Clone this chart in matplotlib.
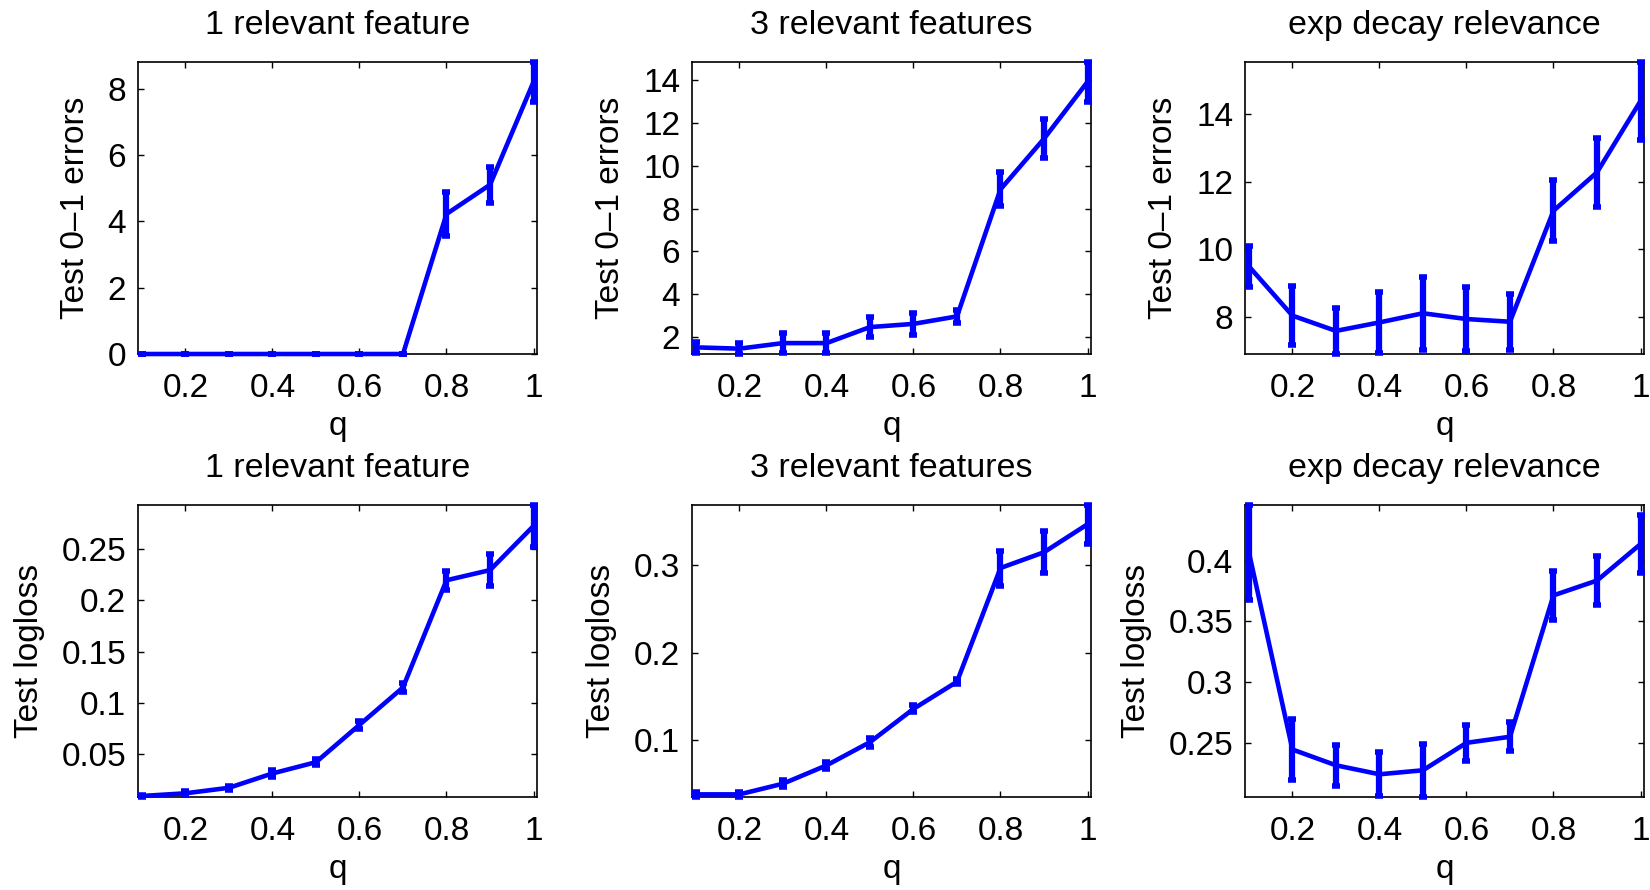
import matplotlib
matplotlib.use("Agg")
import matplotlib.pyplot as plt
import numpy as np
from matplotlib.ticker import FuncFormatter

plt.rcParams['font.family'] = ['Liberation Sans', 'DejaVu Sans']
plt.rcParams['font.size'] = 24

q = [0.1, 0.2, 0.3, 0.4, 0.5, 0.6, 0.7, 0.8, 0.9, 1.0]

# test 0-1 errors (mean, std err)
err_one = [0, 0, 0, 0, 0, 0, 0, 4.22, 5.1, 8.2]
err_one_sd = [0, 0, 0, 0, 0, 0, 0, 0.65, 0.55, 0.6]
err_three = [1.5, 1.44, 1.7, 1.7, 2.45, 2.6, 2.95, 8.9, 11.27, 13.93]
err_three_sd = [0.25, 0.25, 0.45, 0.45, 0.45, 0.5, 0.3, 0.8, 0.9, 0.93]
err_exp = [9.5, 8.05, 7.6, 7.85, 8.12, 7.95, 7.87, 11.14, 12.27, 14.37]
err_exp_sd = [0.6, 0.87, 0.68, 0.9, 1.07, 0.95, 0.83, 0.9, 1.02, 1.15]

# test logloss (mean, std err)
ll_one = [0.009, 0.0116, 0.017, 0.031, 0.042, 0.0785, 0.115, 0.2197, 0.2296, 0.2727]
ll_one_sd = [0.001, 0.002, 0.002, 0.003, 0.003, 0.004, 0.004, 0.0095, 0.016, 0.0205]
ll_three = [0.0383, 0.0383, 0.0505, 0.0714, 0.098, 0.136, 0.167, 0.297, 0.315, 0.347]
ll_three_sd = [0.003, 0.003, 0.004, 0.004, 0.005, 0.004, 0.003, 0.02, 0.024, 0.022]
ll_exp = [0.4068, 0.2445, 0.2315, 0.2241, 0.2274, 0.25, 0.255, 0.3714, 0.3836, 0.4136]
ll_exp_sd = [0.039, 0.025, 0.017, 0.018, 0.022, 0.015, 0.012, 0.02, 0.02, 0.024]

titles = ['1 relevant feature', '3 relevant features', 'exp decay relevance']
xticks = [0.2, 0.4, 0.6, 0.8, 1.0]

panels = [
    (err_one, err_one_sd, 'Test 0\u20131 errors', [0, 2, 4, 6, 8]),
    (err_three, err_three_sd, 'Test 0\u20131 errors', [2, 4, 6, 8, 10, 12, 14]),
    (err_exp, err_exp_sd, 'Test 0\u20131 errors', [8, 10, 12, 14]),
    (ll_one, ll_one_sd, 'Test logloss', [0.05, 0.1, 0.15, 0.2, 0.25]),
    (ll_three, ll_three_sd, 'Test logloss', [0.1, 0.2, 0.3]),
    (ll_exp, ll_exp_sd, 'Test logloss', [0.25, 0.3, 0.35, 0.4]),
]

fig = plt.figure(figsize=(16.5, 8.9), dpi=100)
lefts = [138 / 1650, 692 / 1650, 1245 / 1650]
bottoms = [1 - 354 / 890, 1 - 797 / 890]
w = 399 / 1650
h = 292 / 890

fmt = FuncFormatter(lambda v, p: '%g' % round(v, 4))

for i, (y, e, ylab, yt) in enumerate(panels):
    row, col = divmod(i, 3)
    ax = fig.add_axes([lefts[col], bottoms[row], w, h])
    y = np.array(y)
    e = np.array(e)
    ax.errorbar(q, y, yerr=e, color='#0000ff', lw=3.3, elinewidth=4.5,
                capsize=3, capthick=4, clip_on=False, zorder=5)
    ax.set_xlim(0.091, 1.008)
    ax.set_ylim((y - e).min(), (y + e).max())
    ax.set_xticks(xticks)
    ax.set_yticks(yt)
    ax.xaxis.set_major_formatter(fmt)
    ax.yaxis.set_major_formatter(fmt)
    ax.tick_params(direction='in', top=True, right=True, length=4, width=1)
    ax.tick_params(axis='x', pad=14)
    ax.tick_params(axis='y', pad=8.5)
    for s in ax.spines.values():
        s.set_linewidth(1.2)
    ax.set_title(titles[col], fontsize=24.5, pad=20)
    ax.set_xlabel('q', labelpad=5)
    ax.set_ylabel(ylab, labelpad=12)

fig.savefig('out.png', dpi=100)
